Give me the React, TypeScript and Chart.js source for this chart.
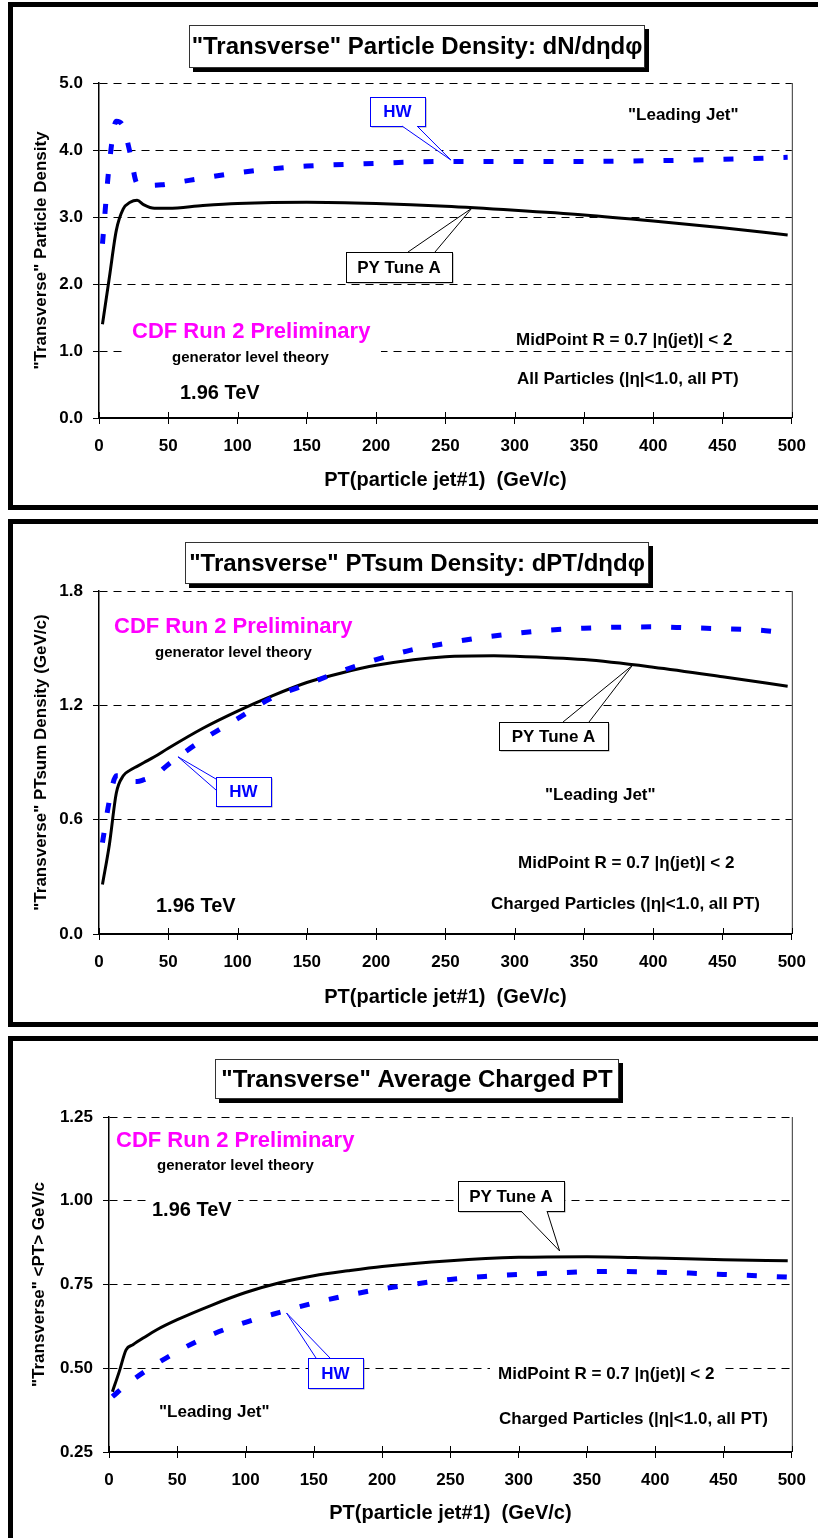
import React, { useEffect, useRef } from "react";
import { Chart, registerables } from "chart.js";
Chart.register(...registerables);

const FONT = "'Liberation Sans', Arial, Helvetica, sans-serif";

// ---------- Panel 1: "Transverse" Particle Density ----------
const DENS_PY_PT = [2.5, 7.5, 12.5, 17.5, 22.5, 27.5, 32.5, 40, 50, 75, 100, 150, 200, 250, 300, 350, 400, 450, 497];
const DENS_PY = [1.4, 2.1, 2.8, 3.12, 3.22, 3.25, 3.18, 3.13, 3.13, 3.17, 3.2, 3.22, 3.2, 3.16, 3.1, 3.03, 2.94, 2.84, 2.73];
const DENS_HW_PT = [2.5, 7.5, 12.5, 17.5, 22.5, 27.5, 35, 45, 60, 75, 100, 125, 150, 200, 250, 300, 350, 400, 450, 497];
const DENS_HW = [2.6, 3.8, 4.43, 4.35, 3.95, 3.5, 3.47, 3.48, 3.53, 3.58, 3.66, 3.72, 3.76, 3.8, 3.83, 3.83, 3.83, 3.84, 3.86, 3.89];

// ---------- Panel 2: "Transverse" PTsum Density ----------
const PTSUM_PY_PT = [2.5, 7.5, 12.5, 17.5, 22.5, 27.5, 32.5, 40, 50, 75, 100, 125, 150, 175, 200, 250, 285, 300, 350, 400, 450, 497];
const PTSUM_PY = [0.26, 0.47, 0.74, 0.83, 0.86, 0.88, 0.9, 0.93, 0.975, 1.08, 1.17, 1.25, 1.32, 1.37, 1.41, 1.455, 1.46, 1.458, 1.44, 1.4, 1.35, 1.3];
const PTSUM_HW_PT = [2.5, 7.5, 12.5, 17.5, 22.5, 27.5, 32.5, 40, 50, 75, 100, 125, 150, 175, 200, 225, 250, 275, 300, 325, 350, 375, 400, 425, 450, 475, 497];
const PTSUM_HW = [0.48, 0.7, 0.83, 0.83, 0.8, 0.8, 0.81, 0.83, 0.89, 1.02, 1.13, 1.24, 1.31, 1.38, 1.44, 1.49, 1.525, 1.555, 1.577, 1.595, 1.605, 1.61, 1.612, 1.607, 1.602, 1.595, 1.58];

// ---------- Panel 3: "Transverse" Average Charged PT ----------
const APT_PY_PT = [2.5, 7.5, 12.5, 17.5, 25, 35, 50, 75, 100, 125, 150, 175, 200, 250, 300, 350, 400, 450, 497];
const APT_PY = [0.43, 0.49, 0.555, 0.57, 0.59, 0.615, 0.645, 0.688, 0.726, 0.755, 0.776, 0.791, 0.804, 0.821, 0.831, 0.833, 0.829, 0.824, 0.821];
const APT_HW_PT = [2.5, 12.5, 25, 50, 75, 100, 125, 150, 175, 200, 225, 250, 275, 300, 325, 350, 375, 400, 425, 450, 475, 497];
const APT_HW = [0.415, 0.45, 0.487, 0.55, 0.6, 0.637, 0.667, 0.695, 0.718, 0.737, 0.752, 0.765, 0.774, 0.78, 0.784, 0.788, 0.789, 0.787, 0.784, 0.78, 0.776, 0.772];

const X_TITLE = "PT(particle jet#1)  (GeV/c)";
const PY_LABEL = "PY Tune A";
const HW_LABEL = "HW";

type Label = { text: string; x: number; y: number; size: number; color?: string; bg?: [number, number, number, number] };
type Callout = { text: string; color: string; box: [number, number, number, number]; base: [number, number, number, number]; tip: [number, number] };
type Spec = {
  top: number; height: number; left: number; right: number; areaTop: number; areaBottom: number;
  yMin: number; yMax: number; yStep: number; yDigits: number; yTitle: string; yTitlePad: number;
  title: string; titleBox: [number, number, number, number];
  py: number[]; pyPt: number[]; hw: number[]; hwPt: number[];
  labels: Label[]; callouts: Callout[];
};

const CANVAS_LEFT = 13;
const CANVAS_W = 805;

const SPECS: Spec[] = [
  {
    top: 7, height: 498, left: 86, right: 780, areaTop: 76, areaBottom: 411,
    yMin: 0, yMax: 5, yStep: 1, yDigits: 1, yTitle: '"Transverse" Particle Density', yTitlePad: 18,
    title: '"Transverse" Particle Density: dN/dηdφ', titleBox: [176, 18, 632, 61],
    py: DENS_PY, pyPt: DENS_PY_PT, hw: DENS_HW, hwPt: DENS_HW_PT,
    labels: [
      { text: '"Leading Jet"', x: 615, y: 108, size: 17 },
      { text: "CDF Run 2 Preliminary", x: 119, y: 325, size: 22, color: "#FF00FF" },
      { text: "generator level theory", x: 159, y: 351, size: 15, bg: [110, 340, 368, 362] },
      { text: "1.96 TeV", x: 167, y: 386, size: 20 },
      { text: "MidPoint R = 0.7 |η(jet)| < 2", x: 503, y: 333, size: 17, bg: [495, 322, 730, 344] },
      { text: "All Particles (|η|<1.0, all PT)", x: 504, y: 372, size: 17 },
    ],
    callouts: [
      { text: HW_LABEL, color: "#0000FF", box: [357, 90, 412, 119], base: [389, 119, 404, 119], tip: [254, 3.85] },
      { text: PY_LABEL, color: "#000000", box: [333, 245, 439, 275], base: [395, 245, 422, 245], tip: [269, 3.13] },
    ],
  },
  {
    top: 524, height: 498, left: 86, right: 782, areaTop: 67, areaBottom: 410,
    yMin: 0, yMax: 1.8, yStep: 0.6, yDigits: 1, yTitle: '"Transverse" PTsum Density (GeV/c)', yTitlePad: 18,
    title: '"Transverse" PTsum Density: dPT/dηdφ', titleBox: [172, 18, 636, 60],
    py: PTSUM_PY, pyPt: PTSUM_PY_PT, hw: PTSUM_HW, hwPt: PTSUM_HW_PT,
    labels: [
      { text: "CDF Run 2 Preliminary", x: 101, y: 103, size: 22, color: "#FF00FF" },
      { text: "generator level theory", x: 142, y: 129, size: 15 },
      { text: "1.96 TeV", x: 143, y: 382, size: 20 },
      { text: '"Leading Jet"', x: 532, y: 271, size: 17 },
      { text: "MidPoint R = 0.7 |η(jet)| < 2", x: 505, y: 339, size: 17 },
      { text: "Charged Particles (|η|<1.0, all PT)", x: 478, y: 380, size: 17 },
    ],
    callouts: [
      { text: PY_LABEL, color: "#000000", box: [486, 198, 595, 226], base: [550, 198, 576, 198], tip: [385, 1.41] },
      { text: HW_LABEL, color: "#0000FF", box: [203, 253, 258, 282], base: [203, 255, 203, 266], tip: [57, 0.93] },
    ],
  },
  {
    top: 1041, height: 497, left: 96, right: 781, areaTop: 76, areaBottom: 411,
    yMin: 0.25, yMax: 1.25, yStep: 0.25, yDigits: 2, yTitle: '"Transverse" <PT> GeV/c', yTitlePad: 16,
    title: '"Transverse" Average Charged PT', titleBox: [202, 18, 606, 58],
    py: APT_PY, pyPt: APT_PY_PT, hw: APT_HW, hwPt: APT_HW_PT,
    labels: [
      { text: "CDF Run 2 Preliminary", x: 103, y: 100, size: 22, color: "#FF00FF" },
      { text: "generator level theory", x: 144, y: 125, size: 15 },
      { text: "1.96 TeV", x: 139, y: 169, size: 20, bg: [137, 155, 225, 181] },
      { text: '"Leading Jet"', x: 146, y: 371, size: 17 },
      { text: "MidPoint R = 0.7 |η(jet)| < 2", x: 485, y: 333, size: 17, bg: [477, 321, 709, 345] },
      { text: "Charged Particles (|η|<1.0, all PT)", x: 486, y: 378, size: 17 },
    ],
    callouts: [
      { text: PY_LABEL, color: "#000000", box: [445, 140, 551, 170], base: [508, 170, 534, 170], tip: [330, 0.85] },
      { text: HW_LABEL, color: "#0000FF", box: [295, 317, 350, 347], base: [303, 317, 317, 317], tip: [130, 0.665] },
    ],
  },
];

const zip = (xs: number[], ys: number[]) => xs.map((x, i) => ({ x, y: ys[i] }));

function makeChart(canvas: HTMLCanvasElement, s: Spec) {
  const annot = {
    id: "annot",
    beforeDatasetsDraw(chart: any) {
      const ctx: CanvasRenderingContext2D = chart.ctx;
      const a = chart.chartArea;
      ctx.save();
      ctx.strokeStyle = "#333";
      ctx.lineWidth = 1;
      ctx.beginPath();
      ctx.moveTo(a.right + 0.5, a.top);
      ctx.lineTo(a.right + 0.5, a.bottom);
      ctx.stroke();
      const xs = chart.scales.x;
      ctx.strokeStyle = "#000";
      xs.ticks.forEach((t: any) => {
        const px = Math.round(xs.getPixelForValue(t.value)) + 0.5;
        ctx.beginPath();
        ctx.moveTo(px, a.bottom);
        ctx.lineTo(px, a.bottom - 6);
        ctx.stroke();
      });
      s.labels.forEach((l) => {
        if (l.bg) {
          ctx.fillStyle = "#fff";
          ctx.fillRect(l.bg[0], l.bg[1], l.bg[2] - l.bg[0], l.bg[3] - l.bg[1]);
        }
        ctx.font = `bold ${l.size}px ${FONT}`;
        ctx.fillStyle = l.color || "#000";
        ctx.textAlign = "left";
        ctx.textBaseline = "middle";
        ctx.fillText(l.text, l.x, l.y);
      });
      ctx.restore();
    },
    afterDatasetsDraw(chart: any) {
      const ctx: CanvasRenderingContext2D = chart.ctx;
      const xs = chart.scales.x;
      const ys = chart.scales.y;
      ctx.save();
      s.callouts.forEach((c) => {
        const tx = xs.getPixelForValue(c.tip[0]);
        const ty = ys.getPixelForValue(c.tip[1]);
        const [x0, y0, x1, y1] = c.box;
        ctx.fillStyle = "#999";
        ctx.fillRect(x0 + 1.5, y0 + 1.5, x1 - x0, y1 - y0);
        ctx.fillStyle = "#fff";
        ctx.fillRect(x0, y0, x1 - x0, y1 - y0);
        ctx.strokeStyle = c.color;
        ctx.lineWidth = 1;
        ctx.strokeRect(x0 + 0.5, y0 + 0.5, x1 - x0, y1 - y0);
        ctx.beginPath();
        ctx.moveTo(c.base[0], c.base[1]);
        ctx.lineTo(tx, ty);
        ctx.lineTo(c.base[2], c.base[3]);
        ctx.closePath();
        ctx.fillStyle = "#fff";
        ctx.fill();
        ctx.beginPath();
        ctx.moveTo(c.base[0], c.base[1]);
        ctx.lineTo(tx, ty);
        ctx.lineTo(c.base[2], c.base[3]);
        ctx.stroke();
        ctx.font = `bold 17px ${FONT}`;
        ctx.fillStyle = c.color;
        ctx.textAlign = "center";
        ctx.textBaseline = "middle";
        ctx.fillText(c.text, (x0 + x1) / 2, (y0 + y1) / 2 + 1);
      });
      // title box
      const [bx0, by0, bx1, by1] = s.titleBox;
      ctx.fillStyle = "#000";
      ctx.fillRect(bx0 + 4, by0 + 4, bx1 - bx0, by1 - by0);
      ctx.fillStyle = "#fff";
      ctx.fillRect(bx0, by0, bx1 - bx0, by1 - by0);
      ctx.strokeStyle = "#333";
      ctx.lineWidth = 1;
      ctx.strokeRect(bx0 + 0.5, by0 + 0.5, bx1 - bx0 - 1, by1 - by0 - 1);
      ctx.font = `bold 24px ${FONT}`;
      ctx.fillStyle = "#000";
      ctx.textAlign = "center";
      ctx.textBaseline = "middle";
      ctx.fillText(s.title, (bx0 + bx1) / 2, (by0 + by1) / 2 + 1);
      ctx.restore();
    },
  };

  return new Chart(canvas, {
    type: "line",
    data: {
      datasets: [
        {
          label: HW_LABEL,
          data: zip(s.hwPt, s.hw),
          borderColor: "#0000FF",
          borderWidth: 5,
          borderDash: [10, 20],
          borderCapStyle: "butt",
          pointRadius: 0,
          fill: false,
          cubicInterpolationMode: "monotone",
        },
        {
          label: PY_LABEL,
          data: zip(s.pyPt, s.py),
          borderColor: "#000000",
          borderWidth: 3,
          pointRadius: 0,
          fill: false,
          cubicInterpolationMode: "monotone",
        },
      ],
    },
    options: {
      responsive: false,
      animation: false,
      events: [],
      layout: { padding: { top: s.areaTop, right: CANVAS_W - s.right, bottom: 0, left: 0 } },
      plugins: { legend: { display: false }, tooltip: { enabled: false }, title: { display: false } },
      scales: {
        x: {
          type: "linear",
          min: 0,
          max: 500,
          afterFit: (sc: any) => { sc.height = s.height - s.areaBottom; },
          ticks: { stepSize: 50, color: "#000", font: { family: FONT, size: 17, weight: "bold" }, padding: 12, maxRotation: 0, autoSkip: false },
          grid: { drawOnChartArea: false, drawTicks: true, tickLength: 6, tickColor: "#000", color: "#000" },
          border: { display: true, color: "#000", width: 2 },
          title: { display: true, text: X_TITLE, color: "#000", font: { family: FONT, size: 20, weight: "bold" }, padding: { top: 0, bottom: 13 } },
        },
        y: {
          type: "linear",
          min: s.yMin,
          max: s.yMax,
          afterFit: (sc: any) => { sc.width = s.left; },
          ticks: {
            stepSize: s.yStep,
            color: "#000",
            font: { family: FONT, size: 17, weight: "bold" },
            padding: 10,
            callback: (v: any) => Number(v).toFixed(s.yDigits),
          },
          grid: {
            color: (c: any) => (c.tick && Math.abs(c.tick.value - s.yMin) < 1e-9 ? "rgba(0,0,0,0)" : "#000"),
            lineWidth: 1,
            drawTicks: true,
            tickLength: 6,
            tickColor: "#000",
          },
          border: { display: true, color: "#000", width: 1.5, dash: [8, 6] },
          title: { display: true, text: s.yTitle, color: "#000", font: { family: FONT, size: 17, weight: "bold" }, padding: { top: s.yTitlePad, bottom: 0 } },
        },
      },
    } as any,
    plugins: [annot],
  });
}

function Panel({ spec }: { spec: Spec }) {
  const ref = useRef<HTMLCanvasElement | null>(null);
  useEffect(() => {
    if (!ref.current) return;
    const ch = makeChart(ref.current, spec);
    return () => ch.destroy();
  }, [spec]);
  return (
    <canvas
      ref={ref}
      width={CANVAS_W}
      height={spec.height}
      style={{ position: "absolute", left: CANVAS_LEFT, top: spec.top, width: CANVAS_W, height: spec.height }}
    />
  );
}

const FRAMES = [
  { top: 2, height: 508 },
  { top: 519, height: 508 },
  { top: 1036, height: 600 },
];

export default function App() {
  return (
    <div style={{ position: "absolute", left: 0, top: 0, width: 818, height: 1538, overflow: "hidden", background: "#fff" }}>
      {FRAMES.map((f, i) => (
        <div
          key={i}
          style={{ position: "absolute", left: 8, top: f.top, width: 840, height: f.height, border: "5px solid #000", boxSizing: "border-box" }}
        />
      ))}
      {SPECS.map((s, i) => (
        <Panel key={i} spec={s} />
      ))}
    </div>
  );
}
